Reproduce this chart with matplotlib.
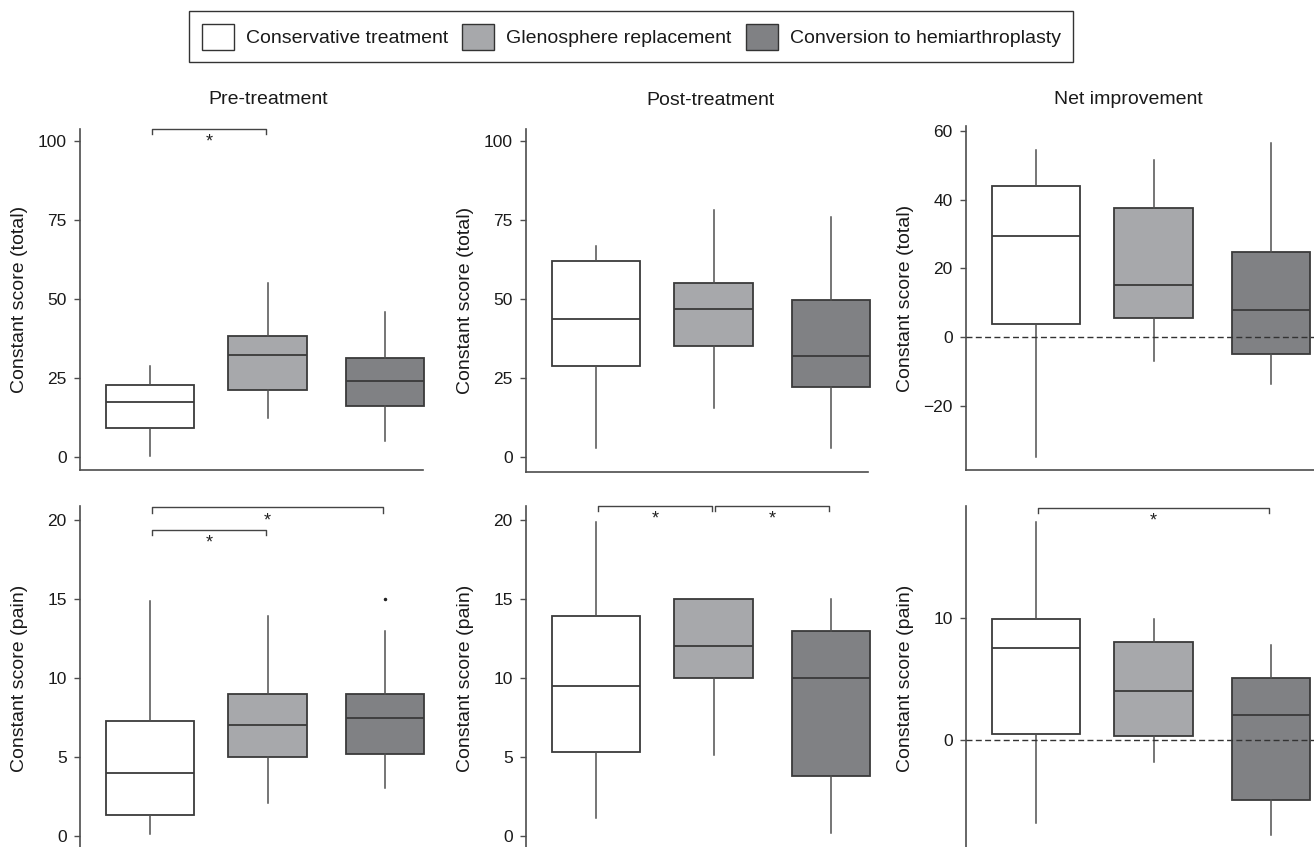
import matplotlib
matplotlib.use('Agg')
import matplotlib.pyplot as plt
from matplotlib.patches import Patch

plt.rcParams['font.family'] = ['Liberation Sans', 'DejaVu Sans']

# groups
groups = ['Conservative treatment', 'Glenosphere replacement', 'Conversion to hemiarthroplasty']
colors = ['#ffffff', '#a7a8ab', '#808184']

# five-number summaries per group: [whisker low, Q1, median, Q3, whisker high]
pre_total = [[0.4, 9.3, 17.3, 22.8, 28.8],
             [12.2, 21.3, 32.3, 38.3, 55.2],
             [5.1, 16.0, 24.0, 31.3, 45.9]]
post_total = [[2.7, 28.7, 43.8, 61.9, 66.8],
              [15.4, 35.2, 46.9, 55.1, 78.3],
              [2.7, 22.2, 31.9, 49.8, 75.9]]
net_total = [[-34.8, 3.9, 29.4, 43.8, 54.5],
             [-7.0, 5.4, 15.0, 37.4, 51.6],
             [-13.8, -4.8, 7.8, 24.8, 56.5]]
pre_pain = [[0.1, 1.3, 4.0, 7.3, 14.9],
            [2.1, 5.0, 7.0, 9.0, 13.9],
            [3.0, 5.2, 7.45, 9.0, 13.0]]
post_pain = [[1.15, 5.3, 9.5, 13.9, 19.9],
             [5.1, 10.0, 12.0, 15.0, 15.0],
             [0.2, 3.8, 10.0, 13.0, 15.0]]
net_pain = [[-6.8, 0.5, 7.5, 9.85, 17.8],
            [-1.8, 0.35, 4.0, 8.0, 9.85],
            [-7.8, -4.9, 2.0, 5.1, 7.8]]
pre_pain_fliers = [[], [], [15.0]]

# significance brackets: (group a, group b, height)
pre_total_sig = [(1, 2, 103.9)]
pre_pain_sig = [(1, 3, 20.8), (1, 2, 19.4)]
post_pain_sig = [(1, 2, 20.9), (2, 3, 20.9)]
net_pain_sig = [(1, 3, 19.0)]

titles = ['Pre-treatment', 'Post-treatment', 'Net improvement']
ylabel_total = 'Constant score (total)'
ylabel_pain = 'Constant score (pain)'

W, H = 1314, 847
fig = plt.figure(figsize=(W / 100, H / 100), dpi=100)

LINE = '#3a3a3a'
SPINE = '#4d4d4d'
widths = [0.75, 0.67, 0.66]


def panel(left, top, bottom, width, ylim, yticks, stats, fliers=None, sig=(),
          zero=False, bottom_spine=True, title=None, title_x=0.5, ylabel=''):
    ax = fig.add_axes([left / W, 1 - bottom / H, width / W, (bottom - top) / H])
    step = 117.5
    ax.set_xlim(1 - 70 / step, 1 + (width - 70) / step)
    ax.set_ylim(*ylim)
    bstats = []
    for i, s in enumerate(stats):
        bstats.append(dict(whislo=s[0], q1=s[1], med=s[2], q3=s[3], whishi=s[4],
                           fliers=fliers[i] if fliers else []))
    res = ax.bxp(bstats, positions=[1, 2, 3], widths=widths, patch_artist=True,
                 showcaps=False,
                 boxprops=dict(edgecolor=LINE, linewidth=1.3),
                 medianprops=dict(color=LINE, linewidth=1.3),
                 whiskerprops=dict(color='#505050', linewidth=1.1),
                 flierprops=dict(marker='.', markersize=3, markerfacecolor='#222',
                                 markeredgecolor='#222'))
    for b, c in zip(res['boxes'], colors):
        b.set_facecolor(c)
        b.set_clip_on(False)
    for key in ('medians', 'whiskers', 'fliers'):
        for l in res[key]:
            l.set_clip_on(False)
    if zero:
        ax.axhline(0, color='#333333', linewidth=1.0, dashes=[4.3, 2.4], zorder=5,
                   clip_on=False)
    for sp in ('top', 'right'):
        ax.spines[sp].set_visible(False)
    ax.spines['bottom'].set_visible(bottom_spine)
    for sp in ('left', 'bottom'):
        ax.spines[sp].set_color(SPINE)
        ax.spines[sp].set_linewidth(1.2)
    ax.set_xticks([])
    ax.set_yticks(yticks)
    ax.tick_params(axis='y', direction='out', length=4.3, width=1.0, color=SPINE,
                   pad=5.3, labelsize=12.5, labelcolor='#1a1a1a')
    ax.set_ylabel(ylabel, fontsize=14, color='#1a1a1a', va='center')
    ax.yaxis.set_label_coords(-60 / width, 0.5)
    tip = 0.016 * (ylim[1] - ylim[0])
    for a, b, y in sig:
        shrink = 0.017
        xa, xb = a + shrink, b - shrink
        ax.plot([xa, xa, xb, xb], [y - tip, y, y, y - tip], color='#444444',
                linewidth=1.0, clip_on=False)
        ax.annotate('*', xy=((a + b) / 2, y), xytext=(0, -3.5), textcoords='offset points',
                    ha='center', va='top', fontsize=13, color='#222222')
    if title:
        ax.text(title_x, 1 + (top - 100) / (bottom - top), title, transform=ax.transAxes,
                ha='center', va='center', fontsize=14, color='#1a1a1a')
    ax.patch.set_alpha(0)
    return ax


panel(80, 129, 470, 343, (-4.1, 103.8), [0, 25, 50, 75, 100], pre_total,
      sig=pre_total_sig, title=titles[0], title_x=(268.4 - 80) / 343, ylabel=ylabel_total)
panel(526, 129.3, 471.7, 342, (-4.65, 103.7), [0, 25, 50, 75, 100], post_total,
      title=titles[1], title_x=(710.5 - 526) / 342, ylabel=ylabel_total)
panel(966, 126, 470, 350, (-38.7, 61.4), [-20, 0, 20, 40, 60], net_total,
      zero=True, title=titles[2], title_x=(1128 - 966) / 350, ylabel=ylabel_total)

panel(80, 506, 850, 343, (-0.9, 20.89), [0, 5, 10, 15, 20], pre_pain,
      fliers=pre_pain_fliers, sig=pre_pain_sig, bottom_spine=False, ylabel=ylabel_pain)
panel(526, 506, 850, 342, (-0.9, 20.89), [0, 5, 10, 15, 20], post_pain,
      sig=post_pain_sig, bottom_spine=False, ylabel=ylabel_pain)
panel(966, 506, 850, 350, (-9.0, 19.13), [0, 10], net_pain,
      sig=net_pain_sig, zero=True, bottom_spine=False, ylabel=ylabel_pain)

handles = [Patch(facecolor=c, edgecolor='#333333', linewidth=1.0) for c in colors]
leg = fig.legend(handles, groups, loc='upper left', bbox_to_anchor=(189 / W, 1 - 11.3 / H),
                 ncol=3, fontsize=14, frameon=True, fancybox=False, framealpha=1,
                 edgecolor='#333333', handlelength=1.65, handleheight=1.65,
                 handletextpad=0.62, columnspacing=0.72, borderpad=0.65,
                 borderaxespad=0)
leg.get_frame().set_linewidth(1.0)
for t in leg.get_texts():
    t.set_color('#1a1a1a')

fig.savefig('out.png', dpi=100)
